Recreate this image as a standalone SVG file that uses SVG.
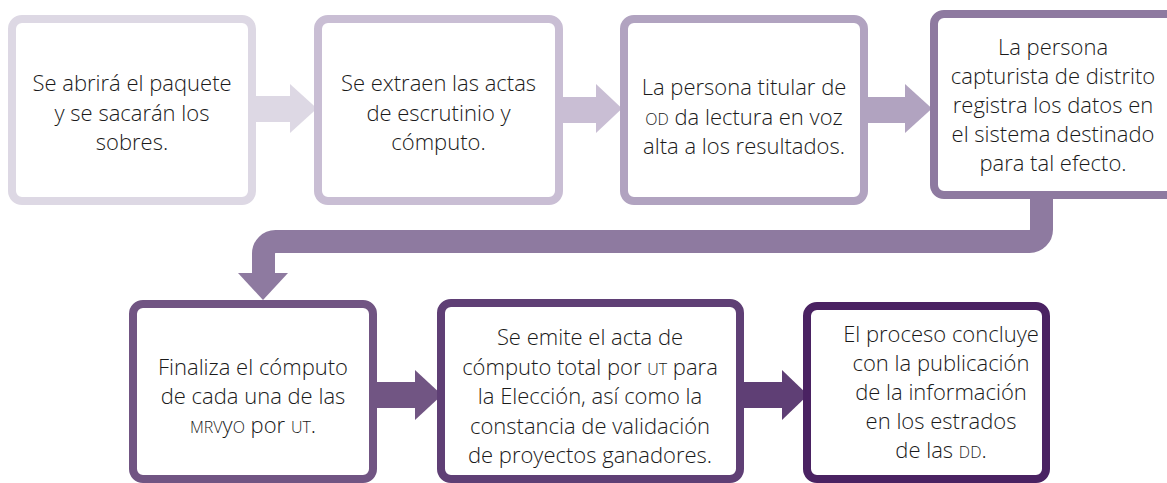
<svg xmlns="http://www.w3.org/2000/svg" width="1167" height="483" viewBox="0 0 1167 483">
<style>
.box{fill:#ffffff;stroke-width:8}
.t{font-family:"Open Sans","Noto Sans","Liberation Sans",sans-serif;font-size:22px;font-weight:300;fill:#1a1a1a;text-anchor:middle}
.sc{font-size:16px}
.c1{fill:#DDD8E4}.s1{stroke:#DDD8E4}
.c2{fill:#C9BED4}.s2{stroke:#C9BED4}
.c3{fill:#B1A3C0}.s3{stroke:#B1A3C0}
.c4{fill:#8E7AA0}.s4{stroke:#8E7AA0}
.c5{fill:#715583}.s5{stroke:#715583}
.c6{fill:#5F3F75}.s6{stroke:#5F3F75}
.s7{stroke:#4A2262}
</style>
<rect width="1167" height="483" fill="#ffffff"/>
<g id="connectors">
  <g class="c1"><rect x="254" y="96" width="37" height="26"/><polygon points="290,84 290,133 317,108.5"/></g>
  <g class="c2"><rect x="561" y="97" width="37" height="26"/><polygon points="596,84 596,133 622,108.5"/></g>
  <g class="c3"><rect x="866" y="97" width="40" height="26"/><polygon points="905,84 905,133 932,108.5"/></g>
  <path d="M1041.5,197 V229.5 A12,12 0 0 1 1029.5,241.5 H275.5 A12,12 0 0 0 263.5,253.5 V274" fill="none" stroke="#8E7AA0" stroke-width="23"/>
  <polygon class="c4" points="238,273 288,273 263,300"/>
  <g class="c5"><rect x="375" y="382" width="41" height="26"/><polygon points="415,370 415,420 442,395"/></g>
  <g class="c6"><rect x="742" y="382" width="41" height="26"/><polygon points="782,370 782,420 808,395"/></g>
</g>
<g id="node1">
  <rect class="box s1" x="12" y="19" width="240" height="182" rx="10"/>
  <text class="t" x="132" y="91">Se abrirá el paquete</text>
  <text class="t" x="132" y="120.5">y se sacarán los</text>
  <text class="t" x="132" y="150">sobres.</text>
</g>
<g id="node2">
  <rect class="box s2" x="318" y="19" width="241" height="182" rx="10"/>
  <text class="t" x="438.5" y="91">Se extraen las actas</text>
  <text class="t" x="438.5" y="120.5">de escrutinio y</text>
  <text class="t" x="438.5" y="150">cómputo.</text>
</g>
<g id="node3">
  <rect class="box s3" x="624" y="19" width="240" height="182" rx="10"/>
  <text class="t" x="744" y="95">La persona titular de</text>
  <text class="t" x="744" y="124.5"><tspan class="sc">OD</tspan> da lectura en voz</text>
  <text class="t" x="744" y="154">alta a los resultados.</text>
</g>
<g id="node4">
  <rect class="box s4" x="934" y="14" width="260" height="181" rx="10"/>
  <text class="t" x="1053" y="55">La persona</text>
  <text class="t" x="1053" y="84">capturista de distrito</text>
  <text class="t" x="1053" y="113">registra los datos en</text>
  <text class="t" x="1053" y="142">el sistema destinado</text>
  <text class="t" x="1053" y="171">para tal efecto.</text>
</g>
<g id="node5">
  <rect class="box s5" x="133" y="304" width="240" height="175" rx="10"/>
  <text class="t" x="253" y="375">Finaliza el cómputo</text>
  <text class="t" x="253" y="404">de cada una de las</text>
  <text class="t" x="253" y="433"><tspan class="sc">MRV</tspan>y<tspan class="sc">O</tspan> por <tspan class="sc">UT</tspan>.</text>
</g>
<g id="node6">
  <rect class="box s6" x="441" y="303" width="299" height="176" rx="10"/>
  <text class="t" x="590" y="345">Se emite el acta de</text>
  <text class="t" x="590" y="374.5">cómputo total por <tspan class="sc">UT</tspan> para</text>
  <text class="t" x="590" y="404">la Elección, así como la</text>
  <text class="t" x="590" y="433.5">constancia de validación</text>
  <text class="t" x="590" y="463">de proyectos ganadores.</text>
</g>
<g id="node7">
  <rect class="box s7" x="807" y="306" width="239" height="173" rx="10"/>
  <text class="t" x="941" y="342">El proceso concluye</text>
  <text class="t" x="941" y="371">con la publicación</text>
  <text class="t" x="941" y="400">de la información</text>
  <text class="t" x="941" y="429">en los estrados</text>
  <text class="t" x="941" y="458">de las <tspan class="sc">DD</tspan>.</text>
</g>
</svg>
